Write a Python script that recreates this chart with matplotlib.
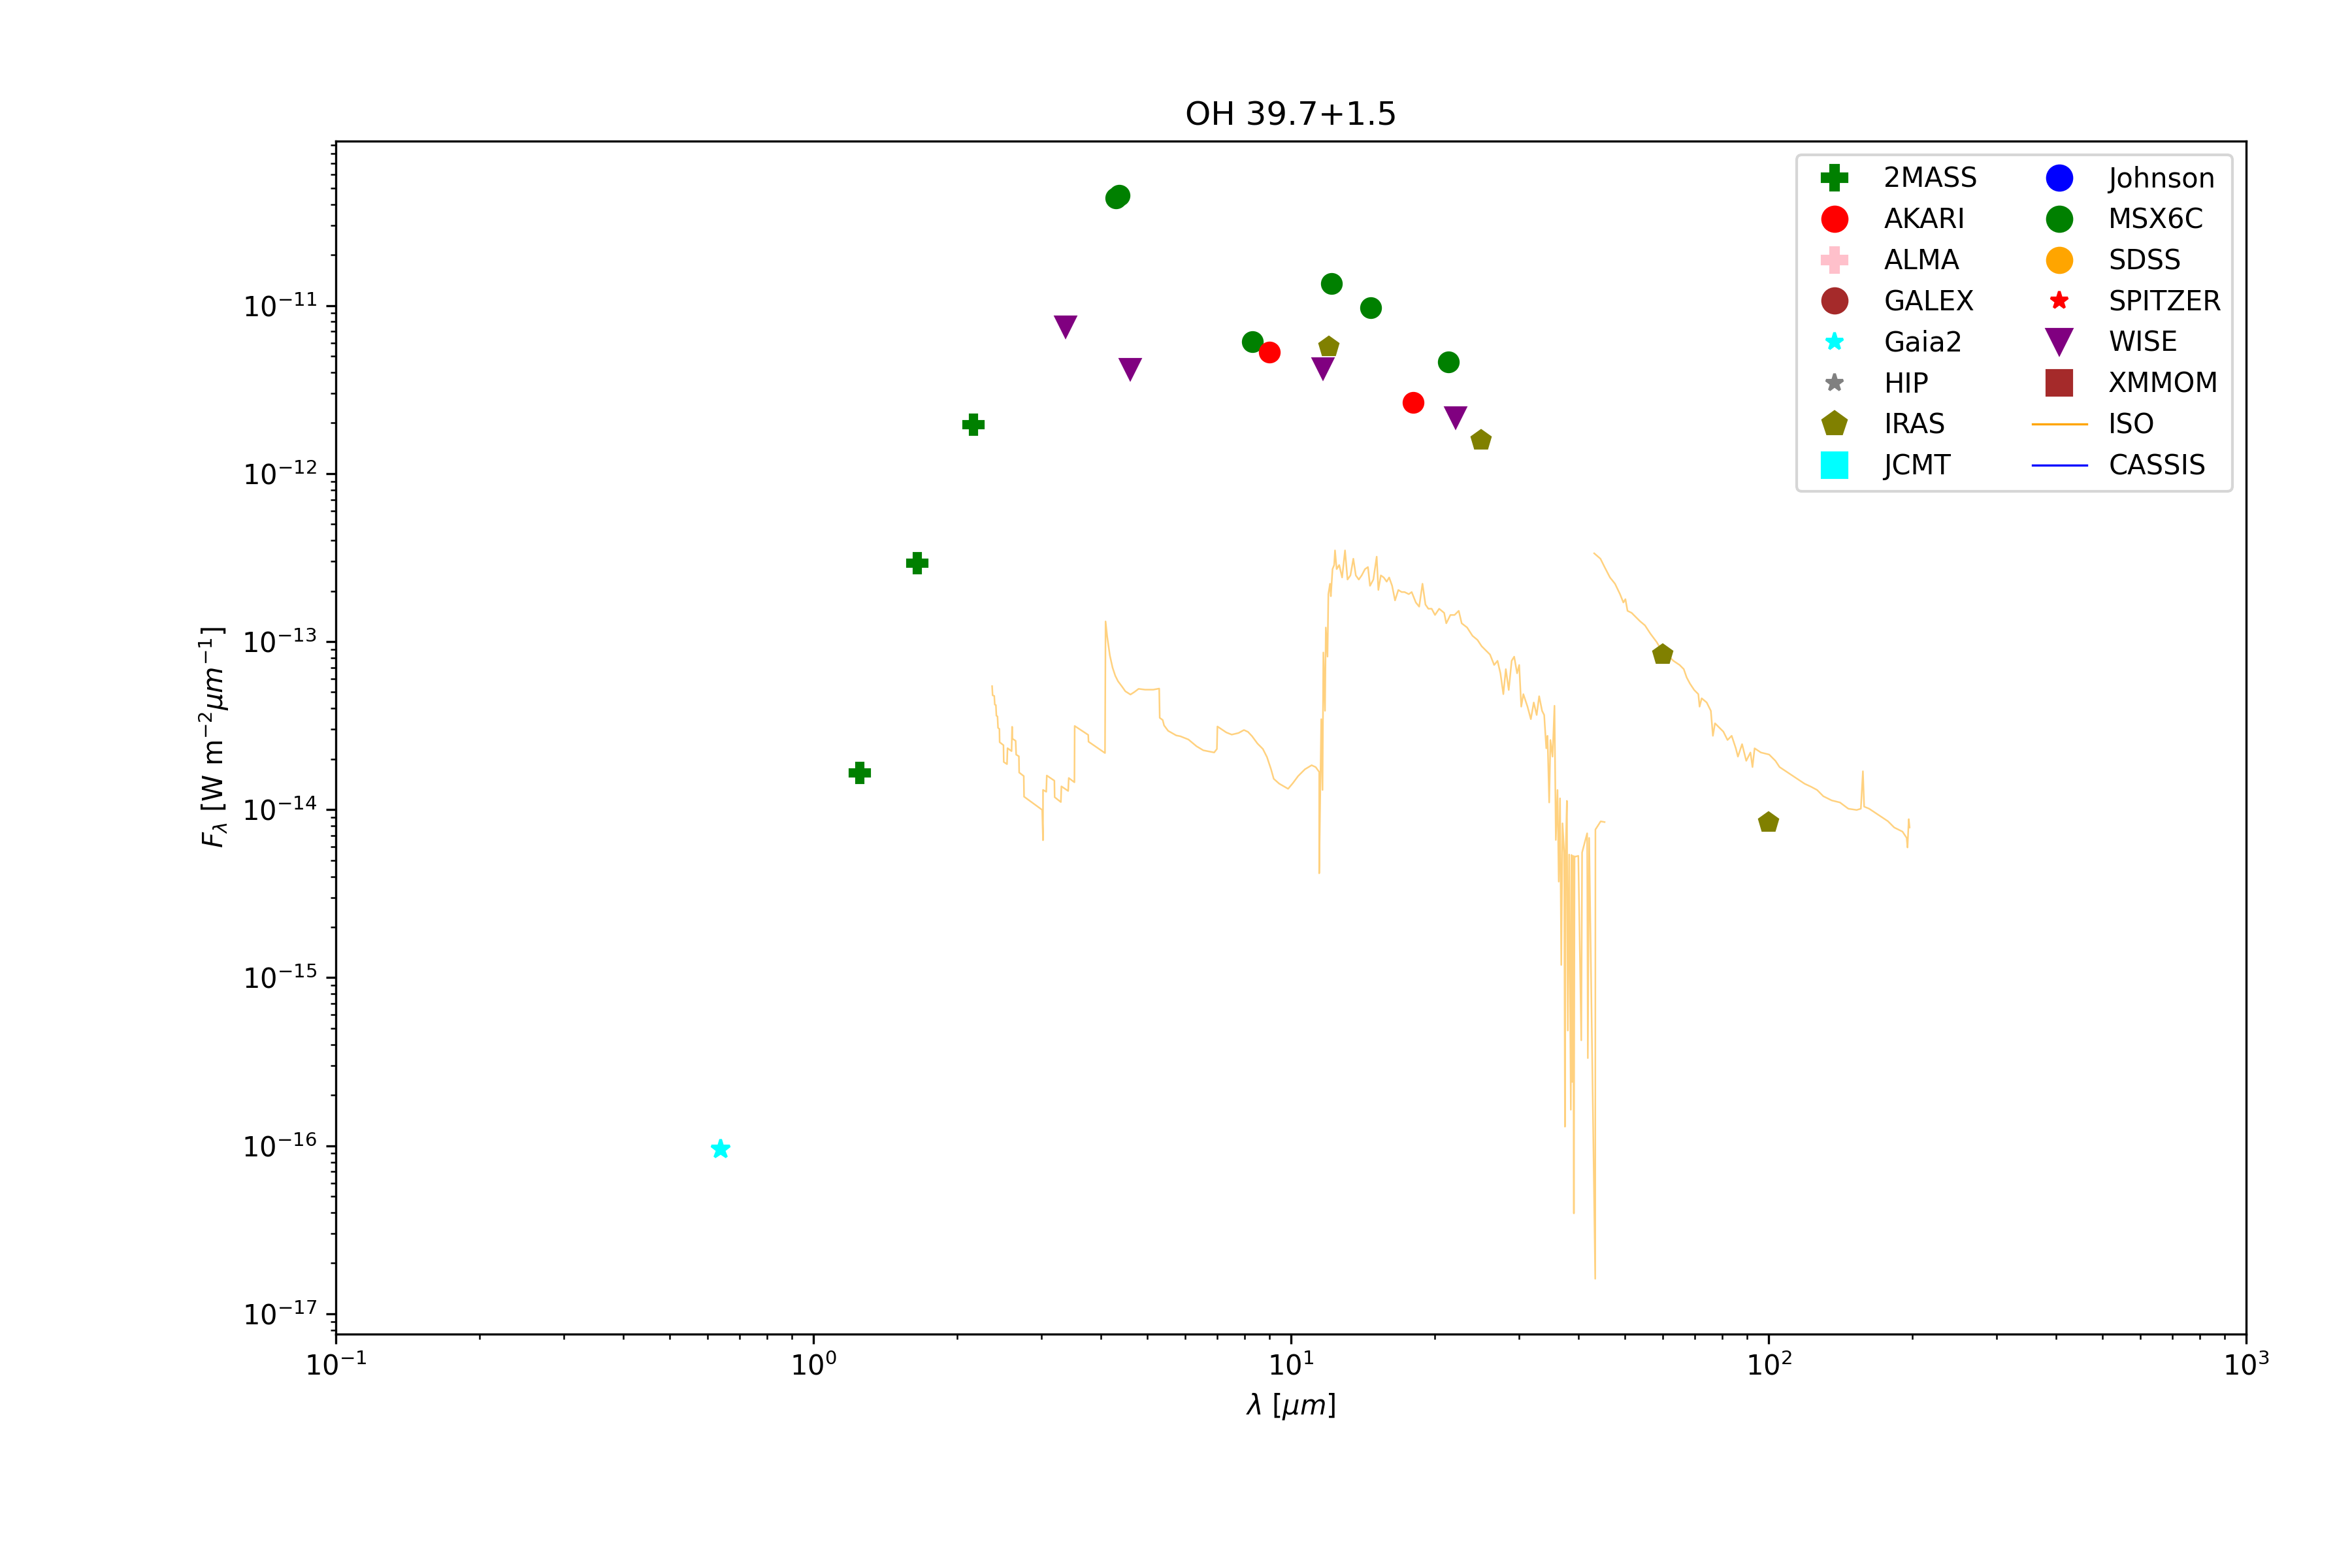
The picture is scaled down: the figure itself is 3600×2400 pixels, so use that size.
import numpy as np
import matplotlib
matplotlib.use("Agg")
import matplotlib.pyplot as plt
from matplotlib.lines import Line2D

# ---------------- photometry (wavelength in micron, flux in W m^-2 um^-1) ----------------
twomass_wl = [1.25, 1.65, 2.16]
twomass_flux = [1.65e-14, 2.92e-13, 1.95e-12]

gaia_wl = [0.64]
gaia_flux = [9.5e-17]

wise_wl = [3.37, 4.61, 11.65, 22.1]
wise_flux = [7.45e-12, 4.17e-12, 4.21e-12, 2.15e-12]

msx_wl = [4.30, 4.37, 8.31, 12.17, 14.69, 21.38]
msx_flux = [4.38e-11, 4.51e-11, 6.07e-12, 1.345e-11, 9.68e-12, 4.6e-12]

akari_wl = [9.0, 18.0]
akari_flux = [5.27e-12, 2.65e-12]

iras_wl = [12.0, 25.0, 60.0, 100.0]
iras_flux = [5.69e-12, 1.58e-12, 8.38e-14, 8.4e-15]

# ---------------- ISO spectrum as log10 values ----------------
iso_sws_log_wl = [
    0.3741, 0.3752, 0.3786, 0.3797, 0.3820, 0.3831, 0.3854, 0.3865, 0.3894, 0.3899,
    0.3979, 0.3985, 0.4053, 0.4064, 0.4149, 0.4160, 0.4166, 0.4234, 0.4245, 0.4302,
    0.4308, 0.4404, 0.4410, 0.4790, 0.4807, 0.4807, 0.4875, 0.4886, 0.5045, 0.5051,
    0.5181, 0.5192, 0.5334, 0.5346, 0.5465, 0.5470, 0.5754, 0.5760, 0.6105, 0.6117,
    0.6151, 0.6207, 0.6264, 0.6321, 0.6378, 0.6463, 0.6531, 0.6638, 0.6718, 0.6809,
    0.6945, 0.7115, 0.7240, 0.7251, 0.7313, 0.7342, 0.7427, 0.7597, 0.7682, 0.7852,
    0.8022, 0.8164, 0.8391, 0.8448, 0.8459, 0.8646, 0.8759, 0.8901, 0.9015, 0.9100,
    0.9185, 0.9298, 0.9411, 0.9497, 0.9582, 0.9638, 0.9752, 0.9939, 1.0035, 1.0149,
    1.0291, 1.0432, 1.0517, 1.0591,
    1.0590, 1.0633, 1.0660, 1.0677, 1.0712, 1.0729, 1.0764, 1.0782, 1.0817, 1.0834,
    1.0869, 1.0904, 1.0921, 1.0956, 1.1009, 1.1070, 1.1131, 1.1183, 1.1244, 1.1305,
    1.1357, 1.1419, 1.1480, 1.1549, 1.1611, 1.1654, 1.1724, 1.1794, 1.1829, 1.1881,
    1.1942, 1.2003, 1.2055, 1.2117, 1.2178, 1.2247, 1.2317, 1.2378, 1.2466, 1.2527,
    1.2614, 1.2684, 1.2753, 1.2815, 1.2876, 1.2945, 1.3015, 1.3102, 1.3207, 1.3251,
    1.3338, 1.3425, 1.3512, 1.3574, 1.3687, 1.3800, 1.3905, 1.3992, 1.4080, 1.4167,
    1.4254, 1.4324, 1.4385, 1.4446, 1.4498, 1.4559, 1.4620, 1.4673, 1.4734, 1.4778,
    1.4821, 1.4865, 1.4952, 1.5022, 1.5083, 1.5144, 1.5196, 1.5257, 1.5301, 1.5345,
    1.5371, 1.5406, 1.5432, 1.5476, 1.5517, 1.5545, 1.5580, 1.5606, 1.5633, 1.5659,
    1.5685, 1.5720, 1.5736, 1.5752, 1.5777, 1.5796, 1.5824, 1.5859, 1.5872, 1.5886,
    1.5905, 1.5923, 1.5937, 1.5955, 1.6016, 1.6078, 1.6095, 1.6201, 1.6215, 1.6243,
    1.6370, 1.6374, 1.6484, 1.6566,
]
iso_sws_log_flux = [
    -13.2653, -13.3201, -13.3234, -13.3749, -13.3782, -13.4410, -13.4458, -13.5135, -13.5200, -13.5990,
    -13.6167, -13.7166, -13.7295, -13.6344, -13.6522, -13.5071, -13.5780, -13.5909, -13.6731, -13.6828,
    -13.7795, -13.8005, -13.9230, -14.0019, -14.1825, -13.8827, -13.8939, -13.7972, -13.8279, -13.9262,
    -13.9552, -13.8617, -13.8891, -13.8118, -13.8375, -13.5023, -13.5555, -13.5958, -13.6635, -12.8801,
    -12.9704, -13.0832, -13.1557, -13.2041, -13.2363, -13.2686, -13.2959, -13.3153, -13.3008, -13.2814,
    -13.2863, -13.2863, -13.2798, -13.4539, -13.4668, -13.4990, -13.5313, -13.5587, -13.5635, -13.5829,
    -13.6232, -13.6473, -13.6602, -13.6393, -13.5055, -13.5410, -13.5538, -13.5442, -13.5265, -13.5377,
    -13.5635, -13.6070, -13.6393, -13.6876, -13.7602, -13.8166, -13.8456, -13.8762, -13.8440, -13.8005,
    -13.7602, -13.7360, -13.7473, -13.7763,
    -14.3792, -13.4618, -13.8833, -13.0650, -13.4122, -12.9163, -13.0898, -12.7179, -12.6559, -12.7303,
    -12.5691, -12.5443, -12.4575, -12.5691, -12.5443, -12.6187, -12.4575, -12.6311, -12.6063, -12.5071,
    -12.6063, -12.6311, -12.6063, -12.5691, -12.5567, -12.6683, -12.6311, -12.4947, -12.6931, -12.6063,
    -12.6187, -12.6435, -12.6187, -12.6683, -12.7551, -12.6931, -12.7055, -12.7055, -12.7179, -12.7055,
    -12.7675, -12.7923, -12.6559, -12.7799, -12.8047, -12.8047, -12.8419, -12.8047, -12.8295, -12.8915,
    -12.8419, -12.8419, -12.8171, -12.8915, -12.9163, -12.9658, -12.9906, -13.0278, -13.0526, -13.0774,
    -13.1394, -13.1146, -13.1890, -13.3130, -13.1642, -13.2882, -13.1146, -13.0898, -13.1890, -13.1394,
    -13.3874, -13.3130, -13.3874, -13.4618, -13.3626, -13.4370, -13.3254, -13.4122, -13.4370, -13.6353,
    -13.5609, -13.9577, -13.5857, -13.6849, -13.3820, -14.1808, -13.8833, -14.4288, -13.9329, -14.9247,
    -14.0816, -14.2552, -15.8870, -14.2420, -13.9480, -15.3150, -14.2676, -15.7860, -14.2700, -15.6210,
    -14.2750, -16.4030, -14.2780, -14.2800, -14.2751, -15.3730, -14.2552, -14.1410, -15.4790, -14.1684,
    -16.7920, -14.1188, -14.0700, -14.0742,
]

iso_lws_log_wl = [
    1.6348, 1.6479, 1.6566, 1.6679, 1.6784, 1.6889, 1.6959, 1.7002, 1.7046, 1.7133,
    1.7220, 1.7308, 1.7412, 1.7526, 1.7657, 1.7761, 1.7918, 1.8006, 1.8137, 1.8224,
    1.8285, 1.8355, 1.8442, 1.8529, 1.8555, 1.8599, 1.8704, 1.8791, 1.8834, 1.8878,
    1.8965, 1.9053, 1.9140, 1.9227, 1.9314, 1.9358, 1.9445, 1.9532, 1.9620, 1.9663,
    1.9707, 1.9838, 2.0012, 2.0143, 2.0230, 2.0361, 2.0492, 2.0623, 2.0754, 2.0885,
    2.1016, 2.1146, 2.1321, 2.1495, 2.1670, 2.1844, 2.1932, 2.1975, 2.2001, 2.2106,
    2.2237, 2.2368, 2.2499, 2.2630, 2.2717, 2.2804, 2.2891, 2.2909, 2.2935, 2.2953,
]
iso_lws_log_flux = [
    -12.4749, -12.5071, -12.5567, -12.6187, -12.6559, -12.7179, -12.7675, -12.7476, -12.8171, -12.8295,
    -12.8543, -12.8791, -12.9039, -12.9534, -13.0030, -13.0526, -13.0898, -13.1146, -13.1394, -13.1642,
    -13.2138, -13.2510, -13.2882, -13.3130, -13.3874, -13.3378, -13.3626, -13.4122, -13.5609, -13.4865,
    -13.5113, -13.5361, -13.5857, -13.5609, -13.6353, -13.6849, -13.6105, -13.7097, -13.6601, -13.7469,
    -13.6353, -13.6601, -13.6725, -13.7097, -13.7469, -13.7717, -13.7965, -13.8213, -13.8461, -13.8634,
    -13.8833, -13.9205, -13.9453, -13.9577, -13.9948, -14.0023, -13.9948, -13.7717, -13.9824, -13.9948,
    -14.0196, -14.0444, -14.0692, -14.1064, -14.1188, -14.1312, -14.1684, -14.2255, -14.0568, -14.1064,
]

legend_labels = ["2MASS", "AKARI", "ALMA", "GALEX", "Gaia2", "HIP", "IRAS", "JCMT",
                 "Johnson", "MSX6C", "SDSS", "SPITZER", "WISE", "XMMOM", "ISO", "CASSIS"]
legend_colors = ["green", "red", "pink", "brown", "cyan", "grey", "olive", "cyan",
                 "blue", "green", "orange", "red", "purple", "brown", "orange", "blue"]
legend_markers = ["P", "o", "P", "o", "*", "*", "p", "s",
                  "o", "o", "o", "*", "v", "s", None, None]

# ---------------- figure ----------------
fig = plt.figure(figsize=(12, 8), dpi=300)
ax = fig.add_axes([0.1428, 0.1492, 0.8122, 0.7608])
ax.set_xscale("log")
ax.set_yscale("log")

iso_color = "orange"
ax.plot(10 ** np.array(iso_sws_log_wl), 10 ** np.array(iso_sws_log_flux),
        color=iso_color, alpha=0.5, lw=0.6)
ax.plot(10 ** np.array(iso_lws_log_wl), 10 ** np.array(iso_lws_log_flux),
        color=iso_color, alpha=0.5, lw=0.6)

ms = 7
ax.plot(twomass_wl, twomass_flux, ls="none", marker="P", color="green", ms=ms)
ax.plot(gaia_wl, gaia_flux, ls="none", marker="*", color="cyan", ms=ms)
ax.plot(wise_wl, wise_flux, ls="none", marker="v", color="purple", ms=ms)
ax.plot(msx_wl, msx_flux, ls="none", marker="o", color="green", ms=ms)
ax.plot(akari_wl, akari_flux, ls="none", marker="o", color="red", ms=ms)
ax.plot(iras_wl, iras_flux, ls="none", marker="p", color="olive", ms=ms)

ax.set_xlim(1e-1, 1e3)
ax.set_ylim(10 ** -17.121, 10 ** -10.022)

ax.set_title("OH 39.7+1.5", fontsize=12)
ax.set_xlabel(r"$\lambda$ [$\mu m$]")
ax.set_ylabel(r"$F_{\lambda}$ [W m$^{-2}\mu m^{-1}$]")

handles = []
for lab, col, mk in zip(legend_labels, legend_colors, legend_markers):
    if mk is None:
        handles.append(Line2D([], [], color=col, lw=0.8, label=lab))
    else:
        size = 6.5 if mk == "*" else 9
        handles.append(Line2D([], [], ls="none", marker=mk, color=col, ms=size, label=lab))
ax.legend(handles=handles, loc="upper right", ncol=2, fontsize=10)

fig.savefig("out.png", dpi=300)
